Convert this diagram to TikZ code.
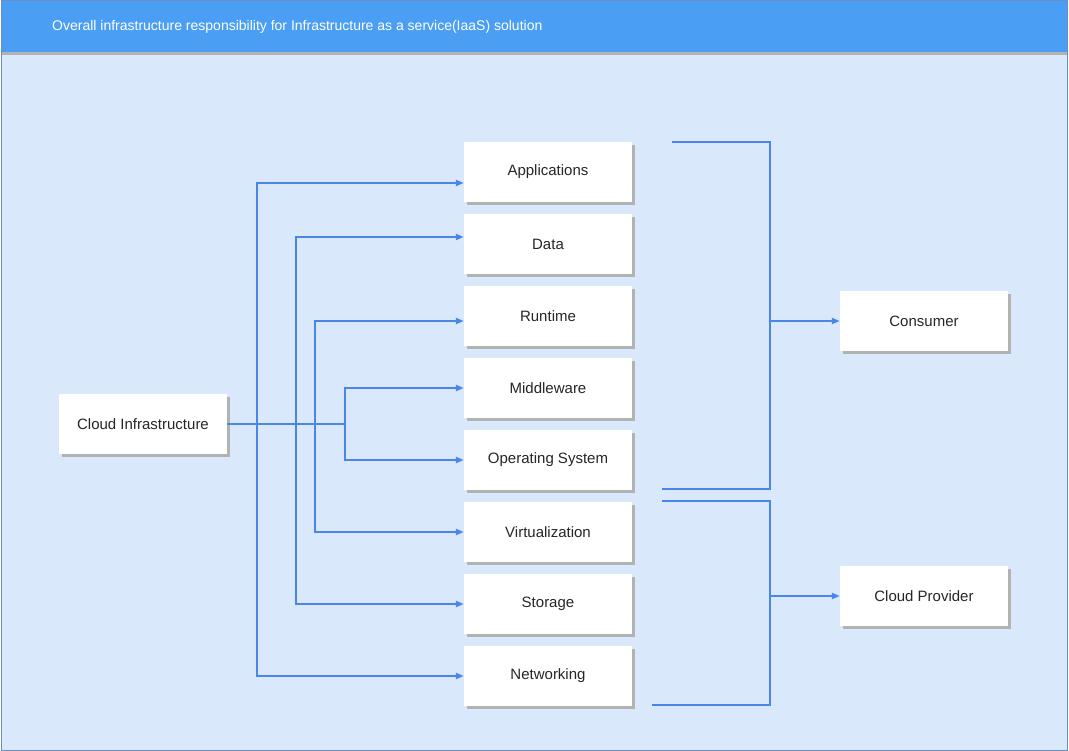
\documentclass[tikz,border=0pt]{standalone}
\usepackage{fontspec}
\setmainfont{Liberation Sans}
\usetikzlibrary{shadows,arrows.meta}
\definecolor{bgblue}{HTML}{DAE8FC}
\definecolor{barblue}{HTML}{4A9FF5}
\definecolor{lineblue}{HTML}{4A86E8}
\definecolor{frameblue}{HTML}{6C8EBF}
\begin{document}
\begin{tikzpicture}[x=1pt,y=-1pt,
  box/.style={fill=white,minimum width=168pt,minimum height=60pt,inner sep=0pt,
    font=\fontsize{15}{17}\selectfont,text=black!85,
    drop shadow={shadow xshift=3pt,shadow yshift=-3pt,fill=black!30,opacity=1}},
  flow/.style={lineblue,line width=2pt,-{Triangle[length=8pt,width=6pt]}},
  bracket/.style={lineblue,line width=2pt}]
\useasboundingbox (0,0) rectangle (1069,751);
\fill[bgblue] (1,1) rectangle (1067,750);
\fill[black!30] (1,52) rectangle (1067,55);
\fill[barblue] (1,1) rectangle (1067,52);
\draw[frameblue,line width=1pt] (1,1) rectangle (1067,750);
\node[anchor=west,inner sep=0pt,text=white,font=\fontsize{14}{16}\selectfont] (title) at (52,27)
  {Overall infrastructure responsibility for Infrastructure as a service(IaaS) solution};
\node[box] (ci) at (143,424) {Cloud Infrastructure};
\node[box] (app) at (548,172) {Applications};
\node[box] (data) at (548,244) {Data};
\node[box] (run) at (548,316) {Runtime};
\node[box] (mid) at (548,388) {Middleware};
\node[box] (os) at (548,460) {Operating System};
\node[box] (virt) at (548,532) {Virtualization};
\node[box] (stor) at (548,604) {Storage};
\node[box] (net) at (548,676) {Networking};
\node[box] (cons) at (924,321) {Consumer};
\node[box] (prov) at (924,596) {Cloud Provider};
\draw[flow] (ci.east) -- ++(30,0) |- ([yshift=-11pt]app.west);
\draw[flow] (ci.east) -- ++(69,0) |- ([yshift=7pt]data.west);
\draw[flow] (ci.east) -- ++(88,0) |- ([yshift=-5pt]run.west);
\draw[flow] (ci.east) -- ++(118,0) |- (mid.west);
\draw[flow] (ci.east) -- ++(118,0) |- (os.west);
\draw[flow] (ci.east) -- ++(88,0) |- (virt.west);
\draw[flow] (ci.east) -- ++(69,0) |- (stor.west);
\draw[flow] (ci.east) -- ++(30,0) |- (net.west);
\coordinate (ctop) at (672,142);
\coordinate (cbot) at (662,489);
\coordinate (ptop) at (662,501);
\coordinate (pbot) at (652,705);
\draw[bracket] (ctop) -- (770,142) -- (770,489) -- (cbot);
\draw[bracket] (ptop) -- (770,501) -- (770,705) -- (pbot);
\draw[flow] (770,321) -- (cons.west);
\draw[flow] (770,596) -- (prov.west);
\end{tikzpicture}
\end{document}
